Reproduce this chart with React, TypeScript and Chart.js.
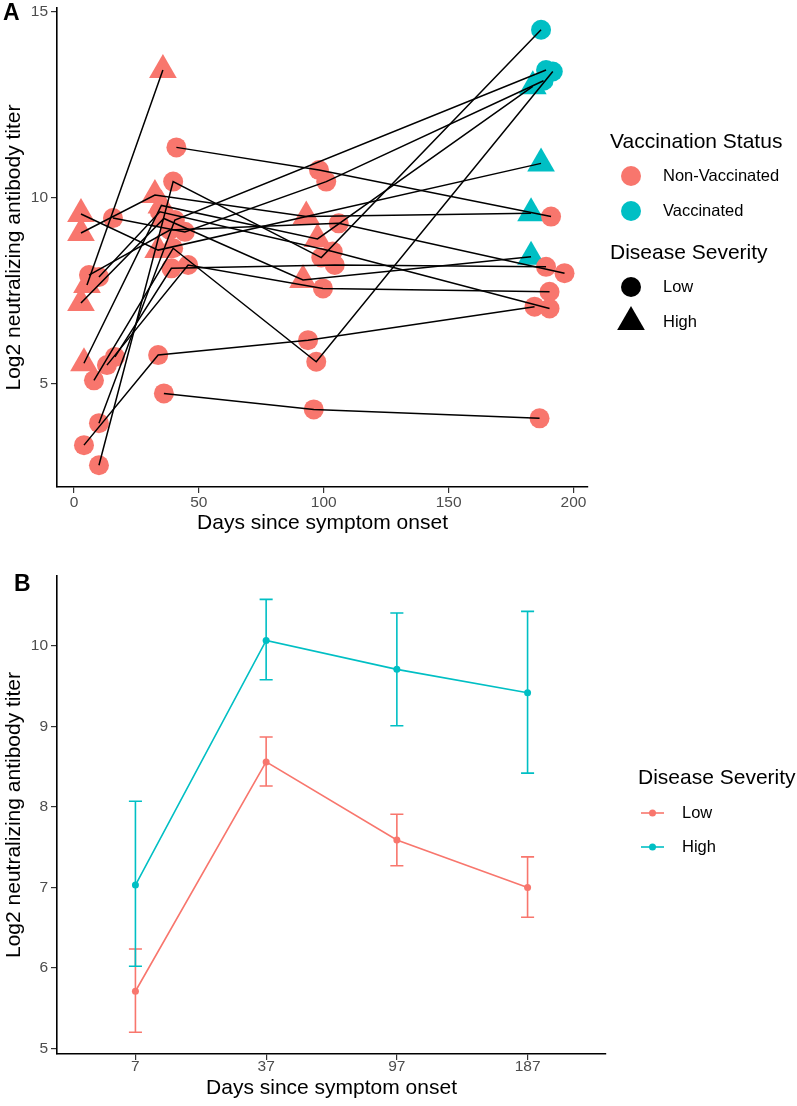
import React, { useEffect, useRef } from 'react';
import { Chart, registerables } from 'chart.js';

Chart.register(...registerables);

const FONT = "'Liberation Sans', Arial, Helvetica, sans-serif";
const RED = '#F8766D';
const CYAN = '#00BFC4';
const TICK_GREY = '#4D4D4D';
const CIRC_R = 10;
const TRI_R = 16;

// ---------------- Panel A: individual trajectories ----------------
const subjectIds = ['A', 'C', 'D', 'M', 'N', 'B', 'E', 'F', 'G', 'H', 'I', 'J', 'K', 'L', 'O', 'P'];
const subjectSeverity = ['High', 'High', 'High', 'High', 'High', 'Low', 'Low', 'Low', 'Low', 'Low', 'Low', 'Low', 'Low', 'Low', 'Low', 'Low'];
const subjectDays = [
  [5.2, 35.6],
  [2.8, 32.4, 93, 183],
  [2.8, 33.7, 187],
  [4, 35, 97.5, 183.7],
  [2.8, 36, 91.7, 183],
  [41, 98.1, 191],
  [10, 39.7, 99, 187],
  [10, 40.4, 189],
  [4, 33.7, 93.7, 184.4],
  [36, 96, 186.4],
  [8, 39.7, 97, 191.7],
  [16.4, 39, 104.4, 189],
  [13.2, 45.7, 99.7, 190.4],
  [10, 34.4, 103.6, 190.4],
  [6, 38.4, 106, 196.4],
  [15.6, 44.4, 101, 188],
];
const subjectTiters = [
  [7.66, 13.44],
  [9.06, 10.08, 9.5, 9.59],
  [9.57, 8.6, 10.93],
  [5.56, 9.8, 8.9, 13.0],
  [7.18, 9.45, 7.8, 8.42],
  [11.36, 10.75, 9.5],
  [2.82, 10.44, 8.4, 14.52],
  [3.95, 9.41, 13.44],
  [3.36, 5.78, 6.18, 7.08],
  [4.75, 4.32, 4.08],
  [5.1, 8.65, 5.6, 13.4],
  [5.73, 8.11, 8.2, 8.15],
  [5.51, 8.2, 7.57, 7.48],
  [7.88, 9.63, 8.56, 7.03],
  [7.93, 9.14, 9.32, 7.98],
  [9.46, 9.09, 10.44, 13.15],
];
const subjectVaccinated = [
  [0, 0],
  [0, 0, 0, 1],
  [0, 0, 1],
  [0, 0, 0, 1],
  [0, 0, 0, 1],
  [0, 0, 0],
  [0, 0, 0, 1],
  [0, 0, 1],
  [0, 0, 0, 0],
  [0, 0, 0],
  [0, 0, 0, 1],
  [0, 0, 0, 0],
  [0, 0, 0, 0],
  [0, 0, 0, 0],
  [0, 0, 0, 0],
  [0, 0, 0, 1],
];
const xTicksA = [0, 50, 100, 150, 200];
const yTicksA = [5, 10, 15];
const vaccinationLabels = ['Non-Vaccinated', 'Vaccinated'];
const severityLabels = ['Low', 'High'];

// ---------------- Panel B: group means with error bars ----------------
const timepointLabels = ['7', '37', '97', '187'];
const lowMean = [5.71, 8.56, 7.59, 7.0];
const lowLower = [5.2, 8.26, 7.27, 6.63];
const lowUpper = [6.235, 8.87, 7.91, 7.38];
const highMean = [7.03, 10.07, 9.71, 9.42];
const highLower = [6.02, 9.58, 9.01, 8.42];
const highUpper = [8.07, 10.58, 10.41, 10.43];
const yTicksB = [5, 6, 7, 8, 9, 10];

const Y_TITLE = 'Log2 neutralizing antibody titer';
const X_TITLE = 'Days since symptom onset';

function drawTriangle(ctx: CanvasRenderingContext2D, x: number, y: number, r: number) {
  ctx.beginPath();
  for (let k = 0; k < 3; k++) {
    const a = (k * 2 * Math.PI) / 3;
    const px = x + Math.sin(a) * r;
    const py = y - Math.cos(a) * r;
    if (k === 0) ctx.moveTo(px, py);
    else ctx.lineTo(px, py);
  }
  ctx.closePath();
  ctx.fill();
}

function drawCircle(ctx: CanvasRenderingContext2D, x: number, y: number, r: number) {
  ctx.beginPath();
  ctx.arc(x, y, r, 0, Math.PI * 2);
  ctx.fill();
}

const axisCommon = (title: string, pad: any) => ({
  title: { display: true, text: title, color: '#000', font: { family: FONT, size: 21 }, padding: pad },
  grid: { display: true, drawOnChartArea: false, drawTicks: true, tickLength: 6, color: '#333333', lineWidth: 1.2 },
  border: { display: true, color: '#000000', width: 1.6 },
});

const legendAPlugin = {
  id: 'legendA',
  afterDraw(chart: any) {
    const ctx: CanvasRenderingContext2D = chart.ctx;
    ctx.save();
    ctx.textBaseline = 'middle';
    ctx.textAlign = 'left';
    ctx.fillStyle = '#000';
    ctx.font = `bold 23px ${FONT}`;
    ctx.fillText('A', 3, 14);
    ctx.font = `21px ${FONT}`;
    ctx.fillText('Vaccination Status', 610, 142);
    ctx.fillText('Disease Severity', 610, 253);
    ctx.font = `16.5px ${FONT}`;
    const vColors = [RED, CYAN];
    vaccinationLabels.forEach((lab, i) => {
      const y = 176 + i * 35;
      ctx.fillStyle = vColors[i];
      drawCircle(ctx, 631, y, CIRC_R);
      ctx.fillStyle = '#000';
      ctx.fillText(lab, 663, y);
    });
    severityLabels.forEach((lab, i) => {
      const y = 287 + i * 35;
      ctx.fillStyle = '#000';
      if (i === 0) drawCircle(ctx, 631, y, CIRC_R);
      else drawTriangle(ctx, 631, y, TRI_R);
      ctx.fillText(lab, 663, y);
    });
    ctx.restore();
  },
};

const errorBarPlugin = {
  id: 'errorBars',
  beforeDatasetsDraw(chart: any) {
    const ctx: CanvasRenderingContext2D = chart.ctx;
    const xs = chart.scales.x;
    const ys = chart.scales.y;
    const series = [
      { lo: lowLower, hi: lowUpper, c: RED },
      { lo: highLower, hi: highUpper, c: CYAN },
    ];
    ctx.save();
    ctx.lineWidth = 1.6;
    series.forEach((s) => {
      s.lo.forEach((lo, i) => {
        const xp = xs.getPixelForValue(i);
        const x0 = xs.getPixelForValue(i - 0.05);
        const x1 = xs.getPixelForValue(i + 0.05);
        const yl = ys.getPixelForValue(lo);
        const yh = ys.getPixelForValue(s.hi[i]);
        ctx.strokeStyle = s.c;
        ctx.beginPath();
        ctx.moveTo(xp, yl);
        ctx.lineTo(xp, yh);
        ctx.moveTo(x0, yl);
        ctx.lineTo(x1, yl);
        ctx.moveTo(x0, yh);
        ctx.lineTo(x1, yh);
        ctx.stroke();
      });
    });
    ctx.restore();
  },
};

const legendBPlugin = {
  id: 'legendB',
  afterDraw(chart: any) {
    const ctx: CanvasRenderingContext2D = chart.ctx;
    ctx.save();
    ctx.textBaseline = 'middle';
    ctx.textAlign = 'left';
    ctx.fillStyle = '#000';
    ctx.font = `bold 23px ${FONT}`;
    ctx.fillText('B', 14, 35);
    ctx.font = `21px ${FONT}`;
    ctx.fillText('Disease Severity', 638, 228);
    ctx.font = `16.5px ${FONT}`;
    const cols = [RED, CYAN];
    severityLabels.forEach((lab, i) => {
      const y = 263 + i * 34;
      ctx.strokeStyle = cols[i];
      ctx.fillStyle = cols[i];
      ctx.lineWidth = 1.6;
      ctx.beginPath();
      ctx.moveTo(641, y);
      ctx.lineTo(664, y);
      ctx.stroke();
      drawCircle(ctx, 652.5, y, 3.5);
      ctx.fillStyle = '#000';
      ctx.fillText(lab, 682, y);
    });
    ctx.restore();
  },
};

function buildChartA(canvas: HTMLCanvasElement) {
  const lineSets = subjectIds.map((id, i) => ({
    label: `Subject ${id}`,
    data: subjectDays[i].map((d, j) => ({ x: d, y: subjectTiters[i][j] })),
    showLine: true,
    borderColor: '#000000',
    borderWidth: 1.5,
    pointRadius: 0,
    pointHoverRadius: 0,
    order: 0,
  }));
  const pts: any[] = [];
  const styles: string[] = [];
  const fills: string[] = [];
  const radii: number[] = [];
  subjectIds.forEach((id, i) => {
    const high = subjectSeverity[i] === 'High';
    subjectDays[i].forEach((d, j) => {
      pts.push({ x: d, y: subjectTiters[i][j] });
      styles.push(high ? 'triangle' : 'circle');
      fills.push(subjectVaccinated[i][j] ? CYAN : RED);
      radii.push(high ? TRI_R : CIRC_R);
    });
  });
  const pointSet = {
    label: 'points',
    data: pts,
    showLine: false,
    pointStyle: styles,
    pointBackgroundColor: fills,
    pointBorderColor: fills,
    pointBorderWidth: 0,
    pointRadius: radii,
    pointHoverRadius: radii,
    order: 1,
  };
  return new Chart(canvas, {
    type: 'scatter',
    data: { datasets: [...lineSets, pointSet] as any },
    options: {
      responsive: false,
      animation: false,
      events: [],
      layout: { autoPadding: false, padding: { left: 0, right: 209, top: 8, bottom: 0 } },
      plugins: { legend: { display: false }, tooltip: { enabled: false } },
      scales: {
        x: {
          type: 'linear',
          min: -6.8,
          max: 205.8,
          ...axisCommon(X_TITLE, { top: 0, bottom: 14.4 }),
          ticks: { font: { family: FONT, size: 15.5 }, color: TICK_GREY, padding: 0, autoSkip: false, maxRotation: 0 },
          afterBuildTicks: (s: any) => { s.ticks = xTicksA.map((v) => ({ value: v })); },
          afterFit: (s: any) => { s.height = 63; s.paddingLeft = 0; s.paddingRight = 0; },
        },
        y: {
          type: 'linear',
          min: 2.235,
          max: 15.105,
          ...axisCommon(Y_TITLE, { top: 1.9, bottom: 0 }),
          ticks: { font: { family: FONT, size: 15.5 }, color: TICK_GREY, padding: 3, autoSkip: false },
          afterBuildTicks: (s: any) => { s.ticks = yTicksA.map((v) => ({ value: v })); },
          afterFit: (s: any) => { s.width = 57; s.paddingTop = 0; s.paddingBottom = 0; },
        },
      },
    } as any,
    plugins: [legendAPlugin],
  });
}

function buildChartB(canvas: HTMLCanvasElement) {
  const mk = (label: string, vals: number[], c: string) => ({
    label,
    data: vals.map((v, i) => ({ x: i, y: v })),
    showLine: true,
    borderColor: c,
    backgroundColor: c,
    borderWidth: 1.6,
    pointRadius: 3.5,
    pointHoverRadius: 3.5,
    pointBackgroundColor: c,
    pointBorderColor: c,
    pointBorderWidth: 0,
  });
  return new Chart(canvas, {
    type: 'scatter',
    data: { datasets: [mk('Low', lowMean, RED), mk('High', highMean, CYAN)] as any },
    options: {
      responsive: false,
      animation: false,
      events: [],
      layout: { autoPadding: false, padding: { left: 0, right: 191, top: 26, bottom: 0 } },
      plugins: { legend: { display: false }, tooltip: { enabled: false } },
      scales: {
        x: {
          type: 'linear',
          min: -0.6,
          max: timepointLabels.length - 0.4,
          ...axisCommon(X_TITLE, { top: 0, bottom: 5.4 }),
          ticks: {
            font: { family: FONT, size: 15.5 }, color: TICK_GREY, padding: -3, autoSkip: false, maxRotation: 0,
            callback: (v: any) => timepointLabels[v],
          },
          afterBuildTicks: (s: any) => { s.ticks = timepointLabels.map((_, i) => ({ value: i })); },
          afterFit: (s: any) => { s.height = 52; s.paddingLeft = 0; s.paddingRight = 0; },
        },
        y: {
          type: 'linear',
          min: 4.93,
          max: 10.87,
          ...axisCommon(Y_TITLE, { top: 1.9, bottom: 0 }),
          ticks: { font: { family: FONT, size: 15.5 }, color: TICK_GREY, padding: 3, autoSkip: false },
          afterBuildTicks: (s: any) => { s.ticks = yTicksB.map((v) => ({ value: v })); },
          afterFit: (s: any) => { s.width = 57; s.paddingTop = 0; s.paddingBottom = 0; },
        },
      },
    } as any,
    plugins: [errorBarPlugin, legendBPlugin],
  });
}

export default function App() {
  const refA = useRef<HTMLCanvasElement | null>(null);
  const refB = useRef<HTMLCanvasElement | null>(null);
  useEffect(() => {
    const a = refA.current ? buildChartA(refA.current) : null;
    const b = refB.current ? buildChartB(refB.current) : null;
    return () => {
      if (a) a.destroy();
      if (b) b.destroy();
    };
  }, []);
  return (
    <div style={{ position: 'absolute', left: 0, top: 0, width: 797, height: 1106, background: '#ffffff' }}>
      <canvas ref={refA} width={797} height={550} style={{ position: 'absolute', left: 0, top: 0, width: 797, height: 550 }} />
      <canvas ref={refB} width={797} height={556} style={{ position: 'absolute', left: 0, top: 550, width: 797, height: 556 }} />
    </div>
  );
}
